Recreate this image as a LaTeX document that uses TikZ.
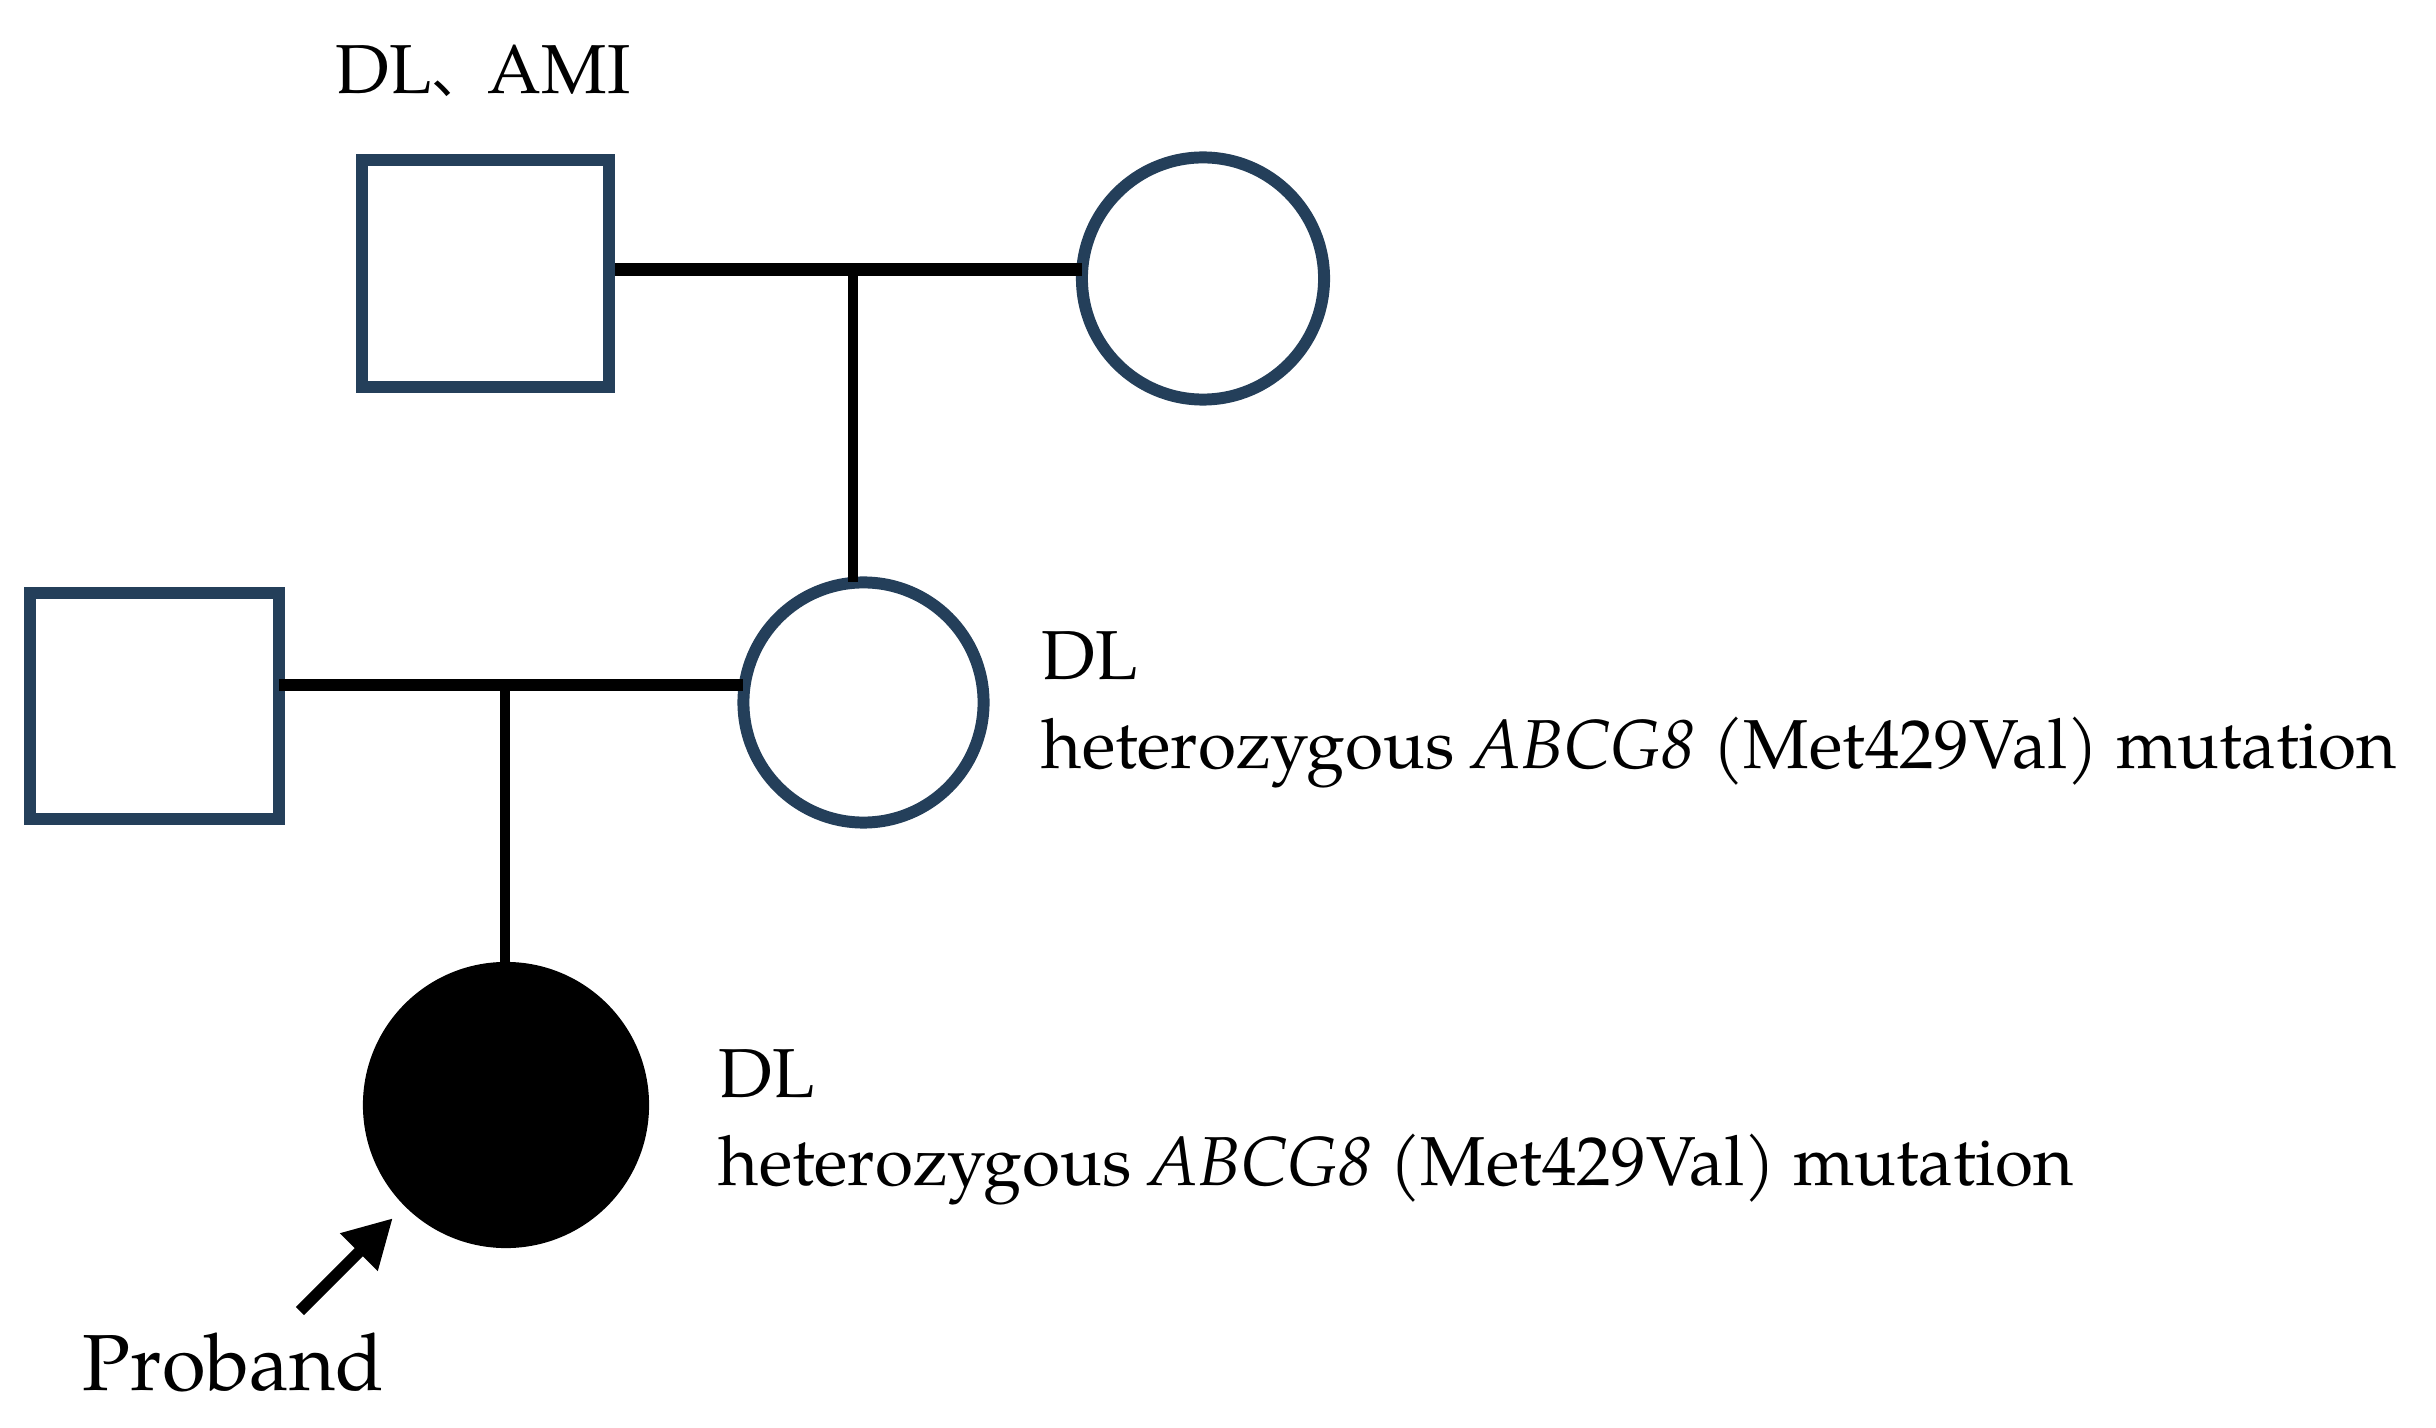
\documentclass[tikz,border=0pt]{standalone}
\usepackage{fontspec}
\setmainfont{TeX Gyre Pagella}
\newfontfamily\cjkfont{Noto Sans CJK SC}
\usetikzlibrary{arrows.meta}
\definecolor{pedblue}{HTML}{243F5A}
\begin{document}
\begin{tikzpicture}[x=0.01cm,y=-0.01cm,
  male/.style={draw=pedblue,line width=3.4pt,rectangle,inner sep=0pt,outer sep=0pt,fill=white},
  female/.style={draw=pedblue,line width=3.4pt,circle,inner sep=0pt,outer sep=0pt,fill=white},
  affected/.style={fill=black,circle,inner sep=0pt,outer sep=0pt,minimum size=2.86cm},
  hlink/.style={draw=black,line width=3.6pt},
  vlink/.style={draw=black,line width=3pt},
  lab/.style={anchor=base west,inner sep=0pt,font=\fontsize{19.7}{25}\selectfont},
  bigl/.style={anchor=base west,inner sep=0pt,font=\fontsize{22.6}{28}\selectfont}]
\useasboundingbox (0,0) rectangle (2436,1428);
% generation I
\node[male,minimum width=2.47cm,minimum height=2.27cm] (gf) at (485.5,273.5) {};
\node[female,minimum size=2.42cm] (gm) at (1203,278.5) {};
% generation II
\node[male,minimum width=2.49cm,minimum height=2.26cm] (fa) at (154.5,706) {};
\node[female,minimum size=2.40cm] (mo) at (863.5,702.5) {};
% generation III
\node[affected] (pb) at (506,1105) {};
% connectors
\coordinate (m1) at (853,269.5);
\coordinate (m2) at (505,685);
\draw[hlink] ([xshift=0.06cm]gf.east |- m1) -- (gm.west |- m1);
\draw[vlink] (m1) -- (m1 |- mo.north);
\draw[hlink] (fa.east |- m2) -- (mo.west |- m2);
\draw[vlink] (m2) -- (m2 |- pb.north);
% arrow
\coordinate (atail) at (300,1311);
\draw[line width=3.3pt,-{Triangle[length=0.48cm,width=0.5cm]},shorten >=0.17cm] (atail) -- (pb);
% labels
\node[lab] (lgf) at (335,94) {DL{\cjkfont\fontsize{16}{16}\selectfont 、}AMI};
\node[lab] (lmo1) at (1041,680) {DL};
\node[lab] (lmo2) at (1041,768) {heterozygous \textit{ABCG8} (Met429Val) mutation};
\node[lab] (lpb1) at (718,1097) {DL};
\node[lab] (lpb2) at (718,1185) {heterozygous \textit{ABCG8} (Met429Val) mutation};
\node[bigl] (lpb) at (82,1390) {Proband};
\end{tikzpicture}
\end{document}
